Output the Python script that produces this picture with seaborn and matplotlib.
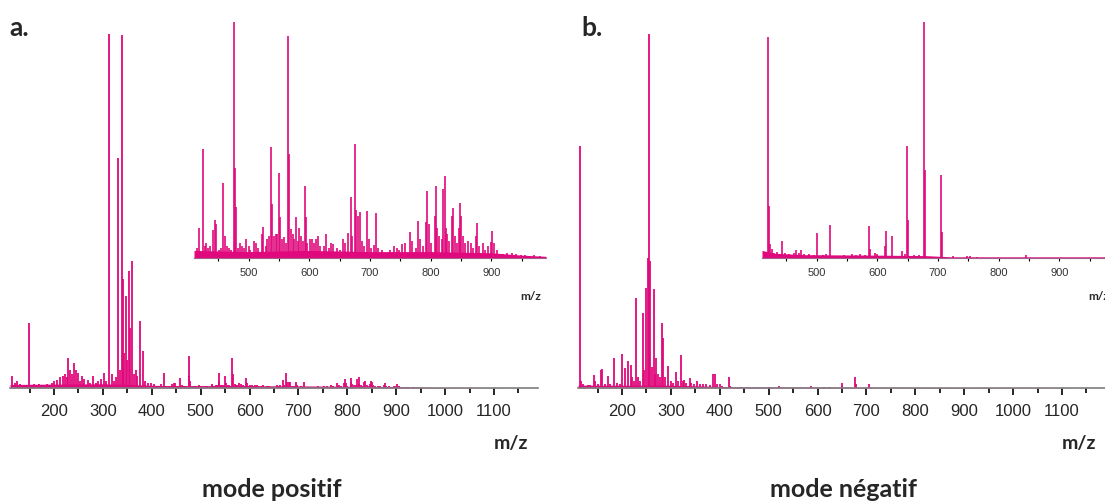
import numpy as np
import matplotlib
matplotlib.use("Agg")
import matplotlib.pyplot as plt
from matplotlib.ticker import MultipleLocator
import seaborn as sns

# spectres de masse (intensité relative en %)
# mode positif, m/z < 410 (échelle du graphe principal)
pos_low_mz = [115, 120, 125, 130, 149, 160, 170, 185, 195, 200, 206, 212, 218, 222, 226, 229, 233,
              236, 240, 244, 249, 253, 258, 262, 269, 274, 280, 285, 291, 297, 302, 307, 313, 318,
              322, 326, 331, 335, 339, 342, 344, 348, 350, 353, 356, 360, 364, 367, 370, 376, 382,
              386, 392, 398, 404]
pos_low_int = [3.5, 1.5, 2.0, 1.2, 18.5, 1.0, 1.0, 1.0, 1.5, 2.0, 2.4, 3.0, 3.4, 4.0, 3.0, 8.4, 5.0,
               4.0, 7.0, 5.0, 4.2, 2.0, 3.5, 2.5, 2.4, 1.5, 3.4, 1.5, 2.0, 2.5, 4.2, 2.0, 100, 4.0,
               2.0, 3.0, 65, 5.0, 99.7, 30.8, 10, 26, 8.0, 33, 17, 35.8, 4.0, 5.0, 3.5, 18.8, 10.5,
               2.0, 1.5, 1.5, 1.0]
# mode positif, m/z >= 410 (échelle de l'encart)
pos_high_mz = [415, 419, 425, 427.5, 430, 433, 436, 441, 444.5, 447, 451, 454, 458, 461.5, 465,
               467.6, 471, 475.3, 477, 478.6, 483, 486, 489.6, 492, 496, 500, 503, 508.8, 512, 516,
               522.5, 524, 528, 531, 534, 537.4, 538.5, 541, 544.5, 546, 549.5, 551.6, 555, 558.8,
               561, 564.8, 566.5, 570, 573, 575, 578, 581, 583, 587, 590, 593.4, 594.5, 597, 600.5,
               604, 607, 611.5, 615, 618, 623.6, 628, 632, 636, 639, 645, 650, 656, 659, 663, 668,
               671, 675.3, 677, 680, 683.5, 687, 690, 695.6, 698, 702, 706, 710.4, 714, 720, 727,
               733, 739.6, 744, 748, 752.7, 758, 766.5, 770, 775, 779.7, 783, 788, 793, 794.5,
               796.7, 800, 806.6, 808.2, 810, 814, 818, 820.3, 823, 824.7, 827, 830, 834.6, 836.8,
               840, 843, 846.7, 848.4, 850.5, 853, 857, 862, 866, 870, 874, 876.4, 880, 886, 890,
               895, 899, 901.6, 905, 910, 919, 925, 934.6, 940, 949.5, 955, 962, 970, 980]
pos_high_int = [4.2, 12.7, 46, 5.0, 6.0, 4.0, 5.0, 11.7, 16, 14, 3.0, 4.0, 31.4, 9.2, 5.0,
                4.2, 3.0, 100, 37.8, 21.2, 4.0, 6.0, 4.7, 4.0, 7.8, 5.0, 3.0, 7.2, 6.0, 4.0,
                9.9, 13, 5.0, 8.0, 9.0, 46.8, 22.6, 9.0, 9.9, 10, 35.8, 17, 8.0, 8.6,
                6.0, 94, 43.8, 12, 10, 8.0, 17, 7.0, 12.3, 9.0, 7.0, 30.4, 17, 6.0, 7.8,
                8.0, 6.0, 7.8, 9.0, 5.0, 4.7, 9.9, 4.0, 6.0, 5.7, 4.0, 3.0, 7.8, 6.0, 10.2, 25.5,
                9.0, 48, 20, 17.7, 19.4, 7.0, 5.0, 19.7, 8.0, 4.0, 5.2, 19, 4.0, 3.0, 2.0,
                3.0, 5.0, 4.0, 3.0, 5.7, 6.0, 10.6, 7.0, 4.0, 15.6, 8.0, 5.0, 15, 28,
                14, 6.0, 17.4, 30.4, 12.7, 9.0, 8.0, 29, 34.7, 12.3, 10, 7.0, 17.7, 20.8,
                9.0, 6.0, 12.7, 23, 17.7, 9.0, 6.0, 7.0, 6.0, 4.0, 9.2, 14.6, 5.0, 6.0, 3.0,
                5.0, 6.6, 11.3, 6.0, 3.0, 1.4, 2.0, 1.7, 1.5, 1.0, 1.2, 0.7, 1.0, 0.8]
pos_inset_factor = 0.091   # pic à 100 % dans l'encart = 9.1 % du spectre complet
pos_floor_mz = [110, 300, 420, 700, 900, 1000, 1190]
pos_floor_int = [1.0, 1.2, 0.7, 0.6, 0.4, 0.1, 0.0]
pos_inset_floor_mz = [410, 500, 600, 700, 800, 900, 950, 990]
pos_inset_floor_int = [3.0, 2.5, 3.0, 2.5, 2.5, 2.0, 1.0, 0.5]

# mode négatif, m/z < 410
neg_low_mz = [114, 116, 120, 125, 130, 135, 142.5, 145, 150, 156.7, 159, 165, 171.6, 176, 183.7,
              190, 195, 200, 206.4, 212.8, 217.8, 220, 224, 228.4, 232, 236, 242, 246, 249, 252.6,
              256, 258, 262, 265.3, 267, 270.3, 274, 278, 281, 284.5, 288, 294.5, 300, 305, 310,
              315, 320, 324, 327, 330, 338.5, 342, 347, 354, 360, 364.8, 372, 380, 386, 391, 395,
              400, 405]
neg_low_int = [68.3, 2.0, 1.0, 0.5, 0.8, 0.8, 3.8, 2.0, 1.0, 5.2, 5.4, 1.0, 3.3, 1.2, 8.5,
               1.5, 1.0, 9.7, 5.6, 7.5, 6.4, 3.0, 2.0, 25.4, 3.0, 2.0, 21.2, 5.0, 28.2, 36.7,
               100, 36, 6.0, 28, 4.0, 8.5, 4.0, 3.0, 18.5, 14, 3.0, 6.1, 2.0, 1.5, 4.4,
               2.0, 9.2, 2.0, 2.4, 1.5, 2.8, 1.5, 1.0, 2.1, 1.0, 1.2, 1.0, 0.8, 4.0, 4.0, 1.0,
               1.2, 0.5]
neg_high_mz = [413.8, 419.8, 420.9, 423, 426, 430, 435, 442.7, 448, 454.7, 462, 466, 471, 475,
               480, 488, 495, 500, 510, 516, 521.8, 530, 545, 558, 565, 572, 580, 586.7, 588.4,
               596.6, 600, 613, 614, 623.8, 640, 645, 649.5, 651, 660, 668, 677.3, 679, 705.7,
               706.8, 725, 747.7, 752, 765, 844.8]
neg_high_int = [2.4, 93.5, 21.9, 5.6, 3.5, 2.0, 2.5, 7.0, 2.0, 1.4, 2.0, 3.0, 2.1, 3.0,
                1.5, 1.5, 1.2, 10.2, 1.0, 1.5, 13.7, 0.8, 1.0, 1.4, 1.0, 1.5, 1.2, 13.4, 3.5,
                2.1, 1.5, 4.7, 11.4, 9.2, 2.8, 1.5, 47.3, 16, 1.0, 1.2, 100, 37, 35,
                10.6, 0.5, 0.7, 0.6, 0.4, 1.0]
neg_inset_factor = 0.032
neg_floor_mz = [110, 300, 440, 700, 1000, 1190]
neg_floor_int = [0.8, 0.8, 0.3, 0.2, 0.1, 0.0]
neg_inset_floor_mz = [410, 430, 480, 600, 680, 720, 990]
neg_inset_floor_int = [3.0, 1.8, 1.2, 1.0, 0.8, 0.3, 0.3]

main_ticks = [200, 300, 400, 500, 600, 700, 800, 900, 1000, 1100]
inset_ticks = [500, 600, 700, 800, 900]
panel_letters = ["a.", "b."]
mode_titles = ["mode positif", "mode négatif"]
PINK = "#e0087c"

sns.set_style("white")
plt.rcParams["font.family"] = ["Liberation Sans", "DejaVu Sans"]
BOLD = ["Lato", "DejaVu Sans"]

fig = plt.figure(figsize=(11.05, 5.02), dpi=100)
W, H = 1105, 502


def box(x0, x1, ytop, ybase):
    return [x0 / W, 1 - ybase / H, (x1 - x0) / W, (ybase - ytop) / H]


def draw(ax, mz, inten, floor_mz, floor_int, lw):
    ax.fill_between(floor_mz, 0, floor_int, color=PINK, lw=0)
    ax.vlines(mz, 0, inten, color=PINK, lw=lw)


panels = [
    (pos_low_mz, pos_low_int, pos_high_mz, pos_high_int, pos_inset_factor,
     pos_floor_mz, pos_floor_int, pos_inset_floor_mz, pos_inset_floor_int),
    (neg_low_mz, neg_low_int, neg_high_mz, neg_high_int, neg_inset_factor,
     neg_floor_mz, neg_floor_int, neg_inset_floor_mz, neg_inset_floor_int),
]
offsets = [0, 568]

for i, (lmz, lint, hmz, hint, fac, fmz, fint, ifmz, ifint) in enumerate(panels):
    off = offsets[i]
    # graphe principal
    ax = fig.add_axes(box(10 + off, 538 + off, 35, 389))
    ax.set_facecolor("none")
    full_mz = list(lmz) + list(hmz)
    full_int = list(lint) + [v * fac for v in hint]
    draw(ax, full_mz, full_int, fmz, fint, 1.3)
    ax.set_xlim(110, 1190)
    ax.set_ylim(0, 100)
    sns.despine(ax=ax, left=True)
    ax.spines["bottom"].set_color("#7f7f7f")
    ax.spines["bottom"].set_linewidth(1.2)
    ax.set_yticks([])
    ax.set_xticks(main_ticks)
    ax.xaxis.set_minor_locator(MultipleLocator(50))
    ax.tick_params(axis="x", which="major", direction="out", length=5, width=1.2,
                   color="black", labelsize=12, pad=6, bottom=True)
    ax.tick_params(axis="x", which="minor", direction="out", length=3.5, width=1.2,
                   color="black", bottom=True)
    for lab in ax.get_xticklabels():
        lab.set_family(["Liberation Sans", "DejaVu Sans"])

    # encart
    ins = fig.add_axes(box(194 + off, 546 + off, 22.5, 258.5))
    ins.set_facecolor("none")
    draw(ins, hmz, hint, ifmz, ifint, 1.2)
    ins.set_xlim(410, 990)
    ins.set_ylim(0, 100)
    sns.despine(ax=ins, left=True)
    ins.spines["bottom"].set_color("#a06088")
    ins.spines["bottom"].set_linewidth(0.8)
    ins.set_yticks([])
    ins.set_xticks(inset_ticks)
    ins.xaxis.set_minor_locator(MultipleLocator(50))
    ins.tick_params(axis="x", which="both", direction="out", length=2.5, width=0.8,
                    color="black", labelsize=8, labelcolor="#333333", pad=4, bottom=True)
    for lab in ins.get_xticklabels():
        lab.set_family(["Liberation Sans", "DejaVu Sans"])

    fig.text((541 + off) / W, 1 - 297 / H, "m/z", ha="right", va="center",
             fontsize=8.5, fontweight="bold", family=BOLD)
    fig.text((528 + off) / W, 1 - 444 / H, "m/z", ha="right", va="center",
             fontsize=14, fontweight="bold", family=BOLD)
    fig.text((9 + off + 4 * i) / W, 1 - 28 / H, panel_letters[i], ha="left", va="center",
             fontsize=19, fontweight="bold", family=BOLD)
    fig.text((272 + off + 3 * i) / W, 1 - 490 / H, mode_titles[i], ha="center", va="center",
             fontsize=18, fontweight="bold", family=BOLD)

fig.savefig("out.png", dpi=100)
